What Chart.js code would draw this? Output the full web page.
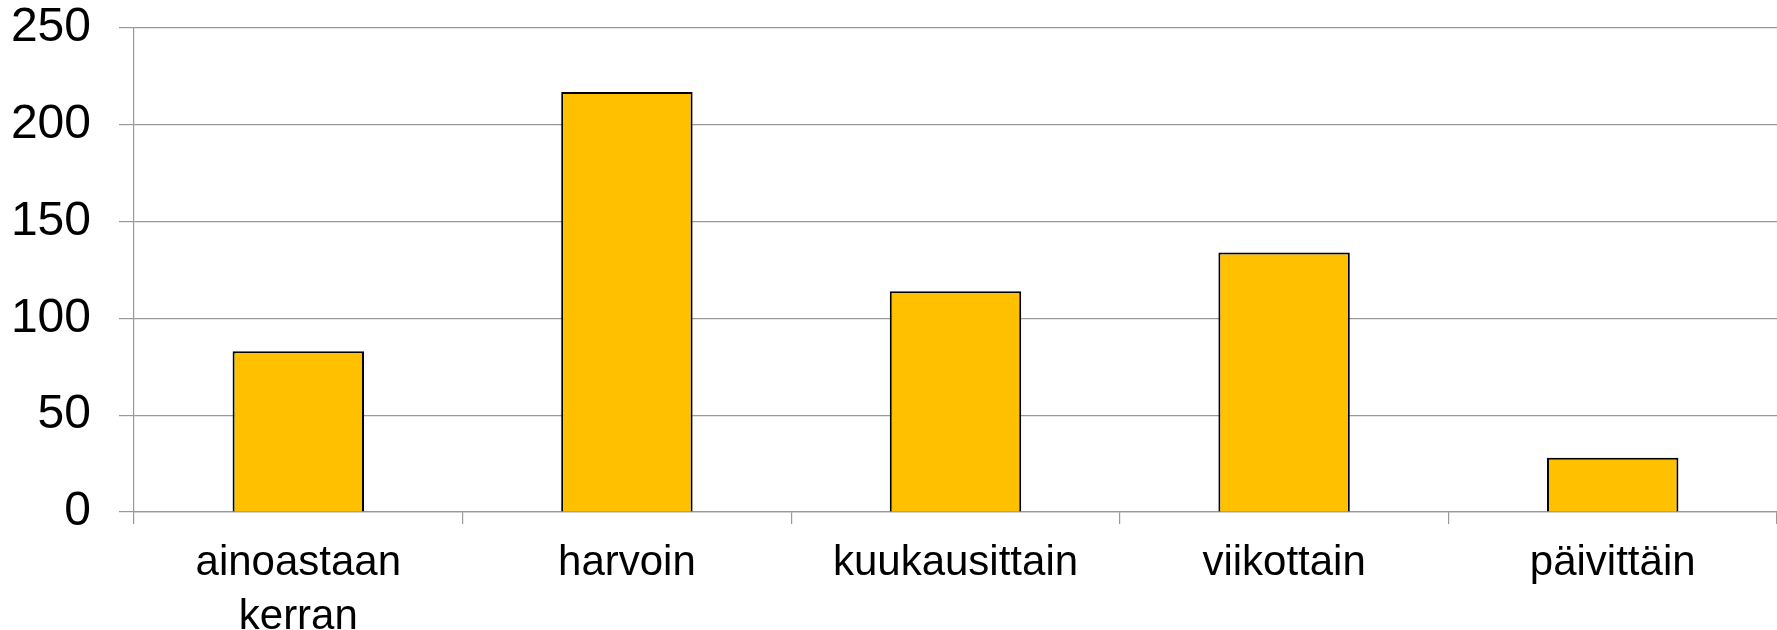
<!DOCTYPE html>
<html lang="fi">
<head>
  <meta charset="UTF-8" />
  <title>Käyttötiheys</title>
  <script src="https://cdn.jsdelivr.net/npm/chart.js"></script>
  <style>
    html, body { margin: 0; padding: 0; background: #fff; }
    #wrap { width: 1777px; height: 630px; position: relative; }
  </style>
</head>
<body>
<div id="wrap"><canvas id="chartCanvas"></canvas></div>

<script>
// data luettu kuvasta
const categories = [['ainoastaan', 'kerran'], 'harvoin', 'kuukausittain', 'viikottain', 'päivittäin'];
const values = [83, 217, 114, 134, 28];
const yTicks = [0, 50, 100, 150, 200, 250];

const gridColor = '#999999';
const fontFamily = '"Liberation Sans", Arial, sans-serif';

new Chart(document.getElementById('chartCanvas'), {
  type: 'bar',
  data: {
    labels: categories,
    datasets: [{
      data: values,
      backgroundColor: '#FFC000',
      borderColor: '#000000',
      borderWidth: 2,
      barPercentage: 0.4,
      categoryPercentage: 1.0
    }]
  },
  options: {
    responsive: true,
    maintainAspectRatio: false,
    animation: false,
    layout: { padding: 0 },
    plugins: {
      legend: { display: false },
      tooltip: { enabled: false }
    },
    scales: {
      x: {
        grid: {
          offset: true,
          drawOnChartArea: false,
          drawTicks: true,
          tickLength: 12,
          color: gridColor,
          lineWidth: 1.2
        },
        border: { color: gridColor, width: 1.2 },
        ticks: {
          color: '#000',
          font: { family: fontFamily, size: 42, lineHeight: 1.3 },
          padding: 12,
          maxRotation: 0,
          autoSkip: false
        },
        afterFit: s => { s.height = 118; }
      },
      y: {
        min: 0,
        max: 250,
        afterBuildTicks: s => { s.ticks = yTicks.map(v => ({ value: v })); },
        grid: {
          color: gridColor,
          lineWidth: 1.2,
          tickLength: 15
        },
        border: { color: gridColor, width: 1.2 },
        ticks: {
          color: '#000',
          font: { family: fontFamily, size: 48 },
          padding: 28
        },
        afterFit: s => { s.width = 134; s.paddingTop = 28; }
      }
    }
  }
});
</script>
</body>
</html>
